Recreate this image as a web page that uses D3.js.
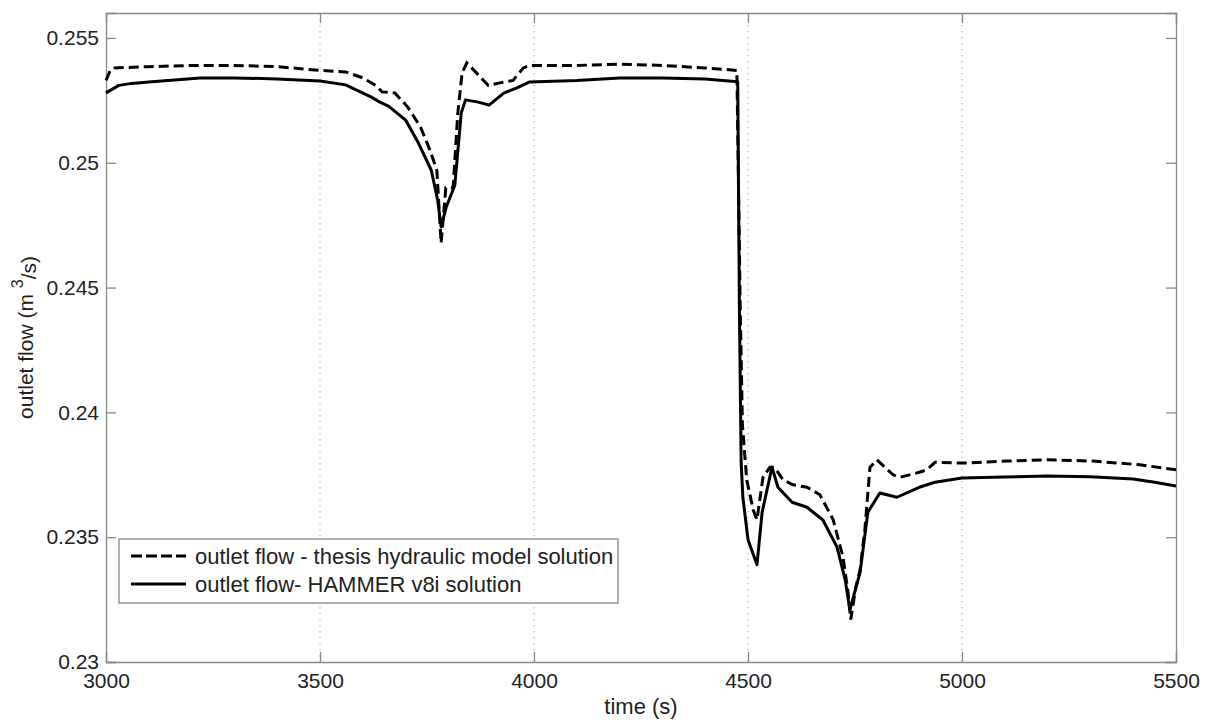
<!DOCTYPE html>
<html lang="en">
<head>
<meta charset="UTF-8">
<title>outlet flow</title>
<script src="https://cdn.jsdelivr.net/npm/d3@7"></script>
<style>
  body { margin: 0; background: #fff; }
  text { font-family: "Liberation Sans", Arial, sans-serif; fill: #222; }
</style>
</head>
<body>
<script>
// data
var timeThesis = [3000, 3010, 3020, 3100, 3200, 3300, 3400, 3500, 3560, 3600, 3630, 3645, 3675, 3705, 3735, 3757, 3773, 3783, 3794, 3811, 3822, 3832, 3843, 3860, 3893, 3920, 3951, 3975, 3990, 4100, 4200, 4300, 4400, 4474, 4482, 4487, 4497, 4512, 4521, 4535, 4551, 4562, 4582, 4605, 4638, 4668, 4699, 4722, 4734, 4740, 4752, 4762, 4773, 4785, 4801, 4820, 4839, 4855, 4900, 4918, 4937, 5002, 5105, 5199, 5306, 5416, 5500];
var flowThesis = [0.2533, 0.2537, 0.2538, 0.25385, 0.2539, 0.2539, 0.25385, 0.2537, 0.25364, 0.2534, 0.2531, 0.25284, 0.2528, 0.25223, 0.25143, 0.2505, 0.2497, 0.24678, 0.2490, 0.2490, 0.2520, 0.2536, 0.2540, 0.2537, 0.2531, 0.2532, 0.2533, 0.2538, 0.2539, 0.2539, 0.25395, 0.2539, 0.2538, 0.2537, 0.2440, 0.2395, 0.2373, 0.2361, 0.2357, 0.2374, 0.2378, 0.2378, 0.2373, 0.2371, 0.2370, 0.2367, 0.2357, 0.2342, 0.23276, 0.2317, 0.2330, 0.2337, 0.2353, 0.2378, 0.2381, 0.2378, 0.2375, 0.2374, 0.2376, 0.2377, 0.2380, 0.23797, 0.23805, 0.2381, 0.23805, 0.2379, 0.2377];

var timeHammer = [3000, 3030, 3060, 3100, 3220, 3300, 3400, 3500, 3560, 3620, 3640, 3660, 3700, 3730, 3760, 3775, 3783, 3795, 3815, 3830, 3840, 3870, 3895, 3930, 3960, 3990, 4100, 4200, 4300, 4400, 4476, 4480, 4484, 4488, 4500, 4521, 4533, 4556, 4570, 4603, 4638, 4675, 4708, 4727, 4738, 4762, 4780, 4808, 4848, 4900, 4937, 5000, 5100, 5200, 5300, 5400, 5450, 5500];
var flowHammer = [0.2528, 0.2531, 0.25318, 0.25324, 0.2534, 0.2534, 0.25336, 0.25328, 0.25312, 0.25263, 0.25243, 0.25227, 0.25171, 0.25079, 0.2497, 0.2485, 0.24743, 0.24823, 0.2491, 0.2520, 0.25252, 0.25243, 0.25231, 0.2528, 0.2530, 0.25324, 0.2533, 0.2534, 0.2534, 0.25336, 0.25325, 0.2440, 0.2380, 0.2366, 0.2349, 0.2339, 0.2360, 0.2378, 0.2370, 0.2364, 0.2362, 0.23569, 0.2346, 0.2333, 0.23208, 0.2336, 0.2360, 0.23677, 0.2366, 0.2370, 0.2372, 0.23737, 0.23741, 0.23745, 0.23742, 0.23733, 0.2372, 0.23705];

var xTicks = [3000, 3500, 4000, 4500, 5000, 5500];
var yTicks = [0.23, 0.235, 0.24, 0.245, 0.25, 0.255];
var yTickLabels = ["0.23", "0.235", "0.24", "0.245", "0.25", "0.255"];
var gridTicks = [3500, 4000, 4500, 5000];
var seriesNames = ["outlet flow - thesis hydraulic model solution", "outlet flow- HAMMER v8i solution"];

// canvas
var width = 1212, height = 720;
var plotLeft = 106, plotRight = 1176, plotTop = 13, plotBottom = 662;

var svg = d3.select("body").append("svg")
    .attr("width", width)
    .attr("height", height);

var x = d3.scaleLinear().domain([3000, 5500]).range([plotLeft, plotRight]);
var y = d3.scaleLinear().domain([0.23, 0.256]).range([plotBottom, plotTop]);

// dotted vertical grid
svg.selectAll("line.grid")
    .data(gridTicks)
    .enter().append("line")
    .attr("class", "grid")
    .attr("x1", function(d) { return x(d); })
    .attr("x2", function(d) { return x(d); })
    .attr("y1", plotTop).attr("y2", plotBottom)
    .attr("stroke", "#aaa")
    .attr("stroke-width", 1)
    .attr("stroke-dasharray", "1.5,4.5");

// axes, ticks inward on all sides
var axisColor = "#888";
var tickLen = 10;
var axB = svg.append("g").attr("transform", "translate(0," + plotBottom + ")")
    .call(d3.axisBottom(x).tickValues(xTicks).tickSize(-tickLen).tickFormat(d3.format("d")));
var axT = svg.append("g").attr("transform", "translate(0," + plotTop + ")")
    .call(d3.axisTop(x).tickValues(xTicks).tickSize(-tickLen).tickFormat(""));
var axL = svg.append("g").attr("transform", "translate(" + plotLeft + ",0)")
    .call(d3.axisLeft(y).tickValues(yTicks).tickSize(-tickLen).tickPadding(7)
        .tickFormat(function(d, i) { return yTickLabels[i]; }));
var axR = svg.append("g").attr("transform", "translate(" + plotRight + ",0)")
    .call(d3.axisRight(y).tickValues(yTicks).tickSize(-tickLen).tickFormat(""));

[axB, axT, axL, axR].forEach(function(g) {
    g.select(".domain").attr("stroke", axisColor).attr("stroke-width", 1.3);
    g.selectAll(".tick line").attr("stroke", axisColor).attr("stroke-width", 1.3);
    g.selectAll("text").style("font-size", "21px").style("fill", "#222")
        .style("font-family", "'Liberation Sans', Arial, sans-serif");
});
axB.selectAll("text").attr("y", 11).attr("dy", "0.71em");

// lines
var line = d3.line()
    .x(function(d) { return x(d[0]); })
    .y(function(d) { return y(d[1]); });

var thesisData = d3.zip(timeThesis, flowThesis);
var hammerData = d3.zip(timeHammer, flowHammer);

svg.append("path")
    .datum(hammerData)
    .attr("d", line)
    .attr("fill", "none")
    .attr("stroke", "#000")
    .attr("stroke-width", 3)
    .attr("stroke-linejoin", "round");

svg.append("path")
    .datum(thesisData)
    .attr("d", line)
    .attr("fill", "none")
    .attr("stroke", "#000")
    .attr("stroke-width", 3)
    .attr("stroke-dasharray", "10,5");

// axis titles
svg.append("text")
    .attr("x", (plotLeft + plotRight) / 2)
    .attr("y", 714)
    .attr("text-anchor", "middle")
    .style("font-size", "22px")
    .text("time (s)");

var yl = svg.append("text")
    .attr("transform", "translate(33," + ((plotTop + plotBottom) / 2) + ") rotate(-90)")
    .attr("text-anchor", "middle")
    .style("font-size", "21px");
yl.append("tspan").text("outlet flow (m ");
yl.append("tspan").attr("dy", "-0.6em").style("font-size", "16px").text("3");
yl.append("tspan").attr("dy", "0.6em").text("/s)");

// legend
var legend = svg.append("g");
legend.append("rect")
    .attr("x", 119).attr("y", 539)
    .attr("width", 499).attr("height", 64)
    .attr("fill", "#fff")
    .attr("stroke", axisColor)
    .attr("stroke-width", 1.3);

var rows = legend.selectAll("g.row")
    .data(seriesNames)
    .enter().append("g")
    .attr("transform", function(d, i) { return "translate(0," + (556 + i * 28) + ")"; });

rows.append("line")
    .attr("x1", 131).attr("x2", 186)
    .attr("stroke", "#000")
    .attr("stroke-width", 3)
    .attr("stroke-dasharray", function(d, i) { return i === 0 ? "11,4" : null; });

rows.append("text")
    .attr("x", 195)
    .attr("dy", "0.35em")
    .style("font-size", "22px")
    .text(function(d) { return d; });
</script>
</body>
</html>
